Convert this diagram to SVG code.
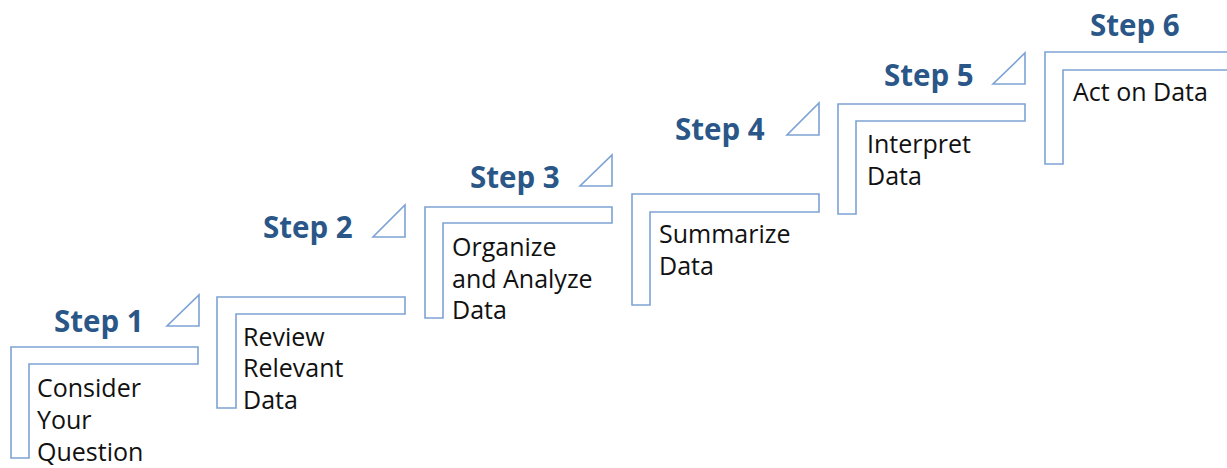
<svg xmlns="http://www.w3.org/2000/svg" width="1227" height="468" viewBox="0 0 1227 468">
<style>
.bg{fill:#ffffff}
.l{fill:#ffffff;stroke:#7DA3D4;stroke-width:1.6;stroke-linejoin:miter}
.tri{fill:#ffffff;stroke:#7DA3D4;stroke-width:1.6;stroke-linejoin:miter}
.step{font-family:"Open Sans","Liberation Sans",sans-serif;font-weight:bold;font-size:29.5px;fill:#2A5788}
.body{font-family:"Open Sans","Liberation Sans",sans-serif;font-size:25px;fill:#111111}
</style>
<rect class="bg" x="0" y="0" width="1227" height="468"/>
<g id="connectors"></g>
<g id="step1">
<path class="l" d="M11,347 H198 V364 H29 V458 H11 Z"/>
<path class="tri" d="M199,295 V326 H167 Z"/>
<text class="step" x="54" y="332">Step 1</text>
<text class="body" x="37" y="397">Consider</text>
<text class="body" x="37" y="429">Your</text>
<text class="body" x="37" y="461">Question</text>
</g>
<g id="step2">
<path class="l" d="M217,297 H405 V314 H236 V408 H217 Z"/>
<path class="tri" d="M405,205 V237 H373 Z"/>
<text class="step" x="263" y="238">Step 2</text>
<text class="body" x="243" y="346">Review</text>
<text class="body" x="243" y="377">Relevant</text>
<text class="body" x="243" y="409">Data</text>
</g>
<g id="step3">
<path class="l" d="M425,207 H612 V223 H443 V318 H425 Z"/>
<path class="tri" d="M612,155 V186 H580 Z"/>
<text class="step" x="470" y="188">Step 3</text>
<text class="body" x="452" y="256">Organize</text>
<text class="body" x="452" y="288">and Analyze</text>
<text class="body" x="452" y="319">Data</text>
</g>
<g id="step4">
<path class="l" d="M632,194 H819 V212 H650 V305 H632 Z"/>
<path class="tri" d="M819,103 V135 H787 Z"/>
<text class="step" x="675" y="140">Step 4</text>
<text class="body" x="659" y="243">Summarize</text>
<text class="body" x="659" y="275">Data</text>
</g>
<g id="step5">
<path class="l" d="M838,104 H1025 V121 H856 V214 H838 Z"/>
<path class="tri" d="M1025,53 V84 H993 Z"/>
<text class="step" x="884" y="86">Step 5</text>
<text class="body" x="867" y="153">Interpret</text>
<text class="body" x="867" y="185">Data</text>
</g>
<g id="step6">
<path class="l" d="M1045,52 H1240 V70 H1063 V164 H1045 Z"/>
<text class="step" x="1090" y="36">Step 6</text>
<text class="body" x="1073" y="101">Act on Data</text>
</g>
</svg>
